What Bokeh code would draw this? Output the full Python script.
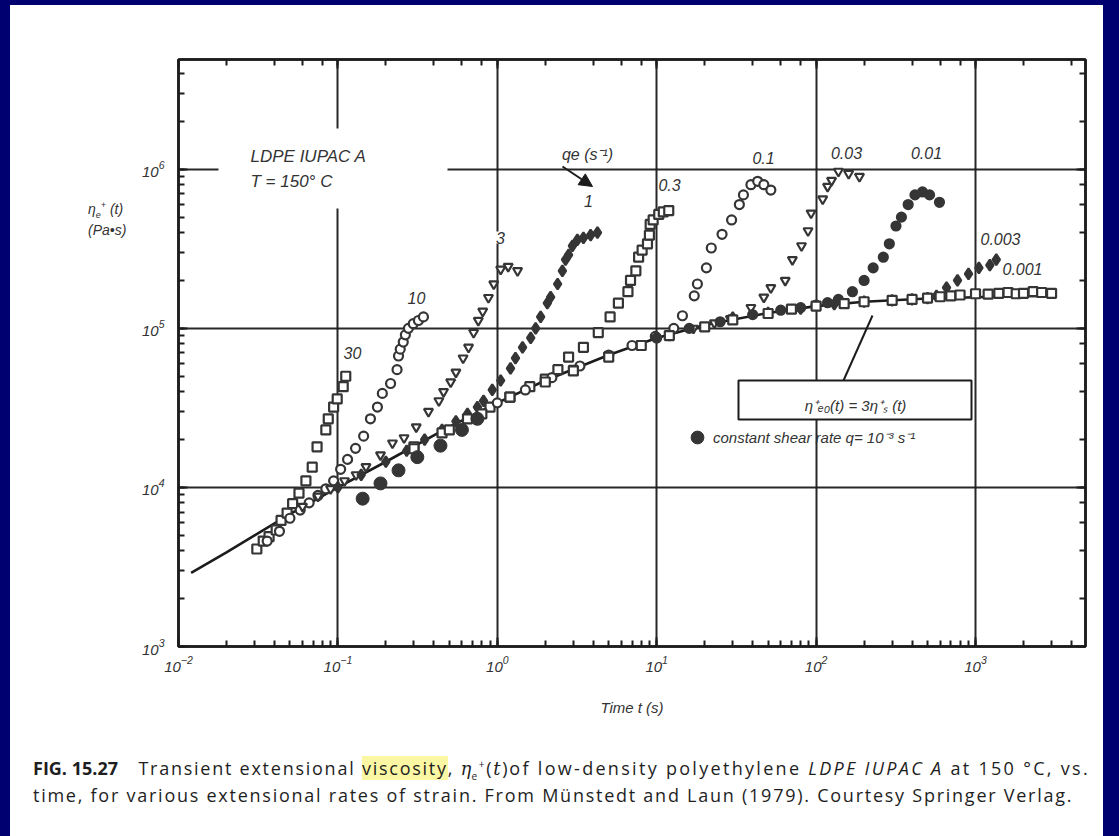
import math
from bokeh.plotting import figure
from bokeh.models import (Label, Arrow, NormalHead, Legend, LegendItem, LogAxis,
                          Div, BoxAnnotation, CustomJSTickFormatter)
from bokeh.layouts import column, row
from bokeh.embed import file_html
from bokeh.resources import INLINE

# ---------------- data ----------------
rate_labels = ["30", "10", "3", "1", "0.3", "0.1", "0.03", "0.01", "0.003", "0.001"]

s30_t = [0.031, 0.034, 0.037, 0.041, 0.044, 0.048, 0.052, 0.057, 0.063, 0.069, 0.074, 0.084, 0.087, 0.094, 0.099, 0.108, 0.112]
s30_e = [4.1e3, 4.6e3, 4.9e3, 5.4e3, 6.2e3, 6.9e3, 7.9e3, 9.2e3, 1.1e4, 1.34e4, 1.8e4, 2.3e4, 2.7e4, 3.2e4, 3.6e4, 4.3e4, 5.0e4]

s10_t = [0.036, 0.043, 0.05, 0.058, 0.066, 0.075, 0.084, 0.094, 0.104, 0.115, 0.129, 0.145, 0.16, 0.177, 0.19, 0.214, 0.235, 0.24, 0.246, 0.257, 0.265, 0.277, 0.297, 0.32, 0.344]
s10_e = [4.6e3, 5.3e3, 6.4e3, 7.2e3, 8.0e3, 8.9e3, 9.8e3, 1.1e4, 1.3e4, 1.5e4, 1.76e4, 2.1e4, 2.7e4, 3.2e4, 3.9e4, 4.5e4, 5.5e4, 6.7e4, 7.4e4, 8.2e4, 9.1e4, 1.0e5, 1.07e5, 1.12e5, 1.18e5]

s3_t = [0.06, 0.075, 0.09, 0.11, 0.13, 0.15, 0.185, 0.22, 0.26, 0.31, 0.37, 0.43, 0.46, 0.51, 0.55, 0.61, 0.66, 0.71, 0.76, 0.81, 0.88, 0.95, 1.05, 1.17, 1.34]
s3_e = [7.6e3, 8.8e3, 9.8e3, 1.1e4, 1.2e4, 1.35e4, 1.6e4, 1.9e4, 2.05e4, 2.4e4, 3.0e4, 3.5e4, 4.0e4, 4.6e4, 5.3e4, 6.5e4, 7.6e4, 9.4e4, 1.12e5, 1.28e5, 1.56e5, 1.9e5, 2.35e5, 2.45e5, 2.3e5]

s1_t = [0.1, 0.14, 0.2, 0.27, 0.35, 0.45, 0.55, 0.65, 0.75, 0.82, 0.93, 1.05, 1.21, 1.30, 1.44, 1.62, 1.74, 1.87, 2.06, 2.16, 2.39, 2.56, 2.68, 2.8, 2.96, 3.18, 3.47, 3.85, 4.25]
s1_e = [1.0e4, 1.2e4, 1.45e4, 1.7e4, 2.0e4, 2.3e4, 2.6e4, 2.9e4, 3.2e4, 3.5e4, 4.1e4, 4.7e4, 5.6e4, 6.5e4, 7.6e4, 8.7e4, 1.0e5, 1.18e5, 1.44e5, 1.57e5, 1.9e5, 2.3e5, 2.7e5, 2.9e5, 3.3e5, 3.6e5, 3.7e5, 3.85e5, 4.0e5]

s03_t = [0.3, 0.45, 0.65, 0.9, 1.2, 1.6, 2.0, 2.4, 2.8, 3.47, 4.3, 5.1, 5.75, 6.6, 6.85, 7.4, 7.7, 8.1, 8.75, 9.0, 9.1, 9.5, 10.3, 11.0, 11.9]
s03_e = [1.8e4, 2.2e4, 2.7e4, 3.2e4, 3.7e4, 4.3e4, 4.8e4, 5.5e4, 6.6e4, 7.6e4, 9.4e4, 1.18e5, 1.44e5, 1.7e5, 2.0e5, 2.3e5, 2.8e5, 3.1e5, 3.4e5, 3.85e5, 4.5e5, 4.8e5, 5.2e5, 5.4e5, 5.5e5]

s01_t = [1.0, 1.5, 2.2, 3.3, 5.0, 7.0, 9.8, 12.8, 14.5, 17.2, 18, 20.5, 22, 25.7, 29.5, 33, 35, 39, 43, 47, 52]
s01_e = [3.4e4, 4.1e4, 4.9e4, 5.8e4, 6.8e4, 7.8e4, 8.9e4, 1.0e5, 1.2e5, 1.6e5, 1.9e5, 2.4e5, 3.2e5, 3.9e5, 4.8e5, 6.0e5, 6.9e5, 8.0e5, 8.4e5, 8.0e5, 7.4e5]

s003_t = [3, 5, 8, 12, 17, 23, 29, 39, 47, 52, 64, 71, 81, 89, 93, 110, 118, 125, 138, 160, 187]
s003_e = [5.6e4, 6.8e4, 8.0e4, 9.0e4, 1.0e5, 1.08e5, 1.15e5, 1.35e5, 1.57e5, 1.8e5, 2.0e5, 2.7e5, 3.3e5, 4.1e5, 5.3e5, 6.5e5, 7.8e5, 8.5e5, 9.7e5, 9.4e5, 9.0e5]

s001_t = [10, 16, 25, 40, 60, 80, 100, 118, 138, 169, 200, 228, 264, 288, 317, 343, 378, 417, 465, 515, 594]
s001_e = [8.7e4, 1.0e5, 1.1e5, 1.22e5, 1.3e5, 1.35e5, 1.4e5, 1.45e5, 1.52e5, 1.7e5, 2.0e5, 2.4e5, 2.8e5, 3.4e5, 4.4e5, 5.0e5, 6.0e5, 6.9e5, 7.2e5, 6.9e5, 6.2e5]

s0003_t = [30, 50, 80, 130, 200, 300, 400, 500, 569, 658, 771, 904, 1050, 1230, 1350]
s0003_e = [1.17e5, 1.25e5, 1.33e5, 1.42e5, 1.47e5, 1.5e5, 1.52e5, 1.55e5, 1.6e5, 1.8e5, 2.0e5, 2.2e5, 2.4e5, 2.5e5, 2.7e5]

s0001_t = [0.3, 0.5, 0.8, 1.2, 2, 3, 5, 8, 12, 20, 30, 50, 70, 100, 150, 200, 300, 400, 500, 600, 700, 800, 1000, 1200, 1400, 1600, 1800, 2000, 2300, 2600, 3000]
s0001_e = [1.75e4, 2.3e4, 2.9e4, 3.7e4, 4.6e4, 5.4e4, 6.6e4, 7.8e4, 9.0e4, 1.02e5, 1.13e5, 1.24e5, 1.32e5, 1.38e5, 1.43e5, 1.47e5, 1.5e5, 1.52e5, 1.55e5, 1.58e5, 1.6e5, 1.62e5, 1.65e5, 1.64e5, 1.66e5, 1.68e5, 1.65e5, 1.66e5, 1.7e5, 1.68e5, 1.66e5]

shear_t = [0.143, 0.185, 0.24, 0.315, 0.44, 0.6, 0.75]
shear_e = [8.5e3, 1.06e4, 1.28e4, 1.55e4, 1.83e4, 2.3e4, 2.7e4]

lve_t = [0.012, 0.02, 0.05, 0.1, 0.2, 0.5, 1, 2, 5, 10, 20, 50, 100, 200, 500, 1000, 2000, 3000]
lve_e = [2.9e3, 3.9e3, 6.8e3, 1.0e4, 1.45e4, 2.4e4, 3.4e4, 4.7e4, 6.8e4, 8.7e4, 1.05e5, 1.25e5, 1.38e5, 1.47e5, 1.54e5, 1.57e5, 1.6e5, 1.6e5]

series_t = [s30_t, s10_t, s3_t, s1_t, s03_t, s01_t, s003_t, s001_t, s0003_t, s0001_t]
series_e = [s30_e, s10_e, s3_e, s1_e, s03_e, s01_e, s003_e, s001_e, s0003_e, s0001_e]

# ---------------- geometry (page origin at x=10, y=5) ----------------
X0, X1 = 1e-2, 10 ** 3.69
Y0, Y1 = 1e3, 10 ** 6.69
TW = 120                                   # width of the y-title column
DPAD = 10                                  # Div's own padding (both sides)
W, H = 1093 - TW, 740
FL, FR, FT, FB = 48, 18, 54, 99            # frame borders (px)
FW, FH = W - FL - FR, H - FT - FB


def tx(px):   # reference pixel x -> data t
    return 10 ** (math.log10(X0) + (px - 178) / FW * (math.log10(X1) - math.log10(X0)))


def ty(py):   # reference pixel y -> data eta
    return 10 ** (math.log10(Y0) + (646 - py) / FH * (math.log10(Y1) - math.log10(Y0)))


INK = "#1c1c1c"
TXT = "#333333"
MK = "#353535"
FONT = "Liberation Sans"

p = figure(width=W, height=H, x_axis_type="log", y_axis_type="log",
           x_range=(X0, X1), y_range=(Y0, Y1), output_backend="svg",
           toolbar_location=None, min_border_left=FL, min_border_right=FR,
           min_border_top=FT, min_border_bottom=FB)
p.background_fill_color = "white"
p.border_fill_color = "white"
p.outline_line_color = INK
p.outline_line_width = 2.5

bottom_ax = p.below[0]
left_ax = p.left[0]

for g in (p.xgrid[0], p.ygrid[0]):
    g.grid_line_color = INK
    g.grid_line_width = 2
    g.grid_line_alpha = 0.95

top_ax = LogAxis(formatter=CustomJSTickFormatter(code="return ''"))
right_ax = LogAxis(formatter=CustomJSTickFormatter(code="return ''"))
p.add_layout(top_ax, "above")
p.add_layout(right_ax, "right")

for ax in (bottom_ax, left_ax, top_ax, right_ax):
    ax.axis_line_color = INK
    ax.axis_line_width = 2.5
    ax.major_tick_in = 9
    ax.major_tick_out = 0
    ax.minor_tick_in = 6
    ax.minor_tick_out = 0
    ax.major_tick_line_color = INK
    ax.minor_tick_line_color = INK
    ax.major_tick_line_width = 2
    ax.minor_tick_line_width = 2
    ax.major_label_text_font = FONT
    ax.major_label_text_font_style = "italic"
    ax.major_label_text_font_size = "15px"
    ax.major_label_text_color = TXT
for ax in (top_ax, right_ax):
    ax.major_label_text_font_size = "6px"
    ax.major_label_standoff = 0

bottom_ax.major_label_standoff = 9
left_ax.major_label_standoff = 14
bottom_ax.axis_label = "Time t (s)"
bottom_ax.axis_label_text_font = FONT
bottom_ax.axis_label_text_font_style = "italic"
bottom_ax.axis_label_text_font_size = "15px"
bottom_ax.axis_label_text_color = TXT
bottom_ax.axis_label_standoff = 24

# white mask behind the material label (grid lines are broken there)
p.quad(left=tx(218), right=tx(447), bottom=ty(208), top=ty(128),
       fill_color="white", line_color=None)

# linear viscoelastic envelope
p.line(lve_t, lve_e, line_color=INK, line_width=2.6)

styles = [("square", False), ("circle", False), ("inverted_triangle", False),
          ("diamond", True), ("square", False), ("circle", False),
          ("inverted_triangle", False), ("circle", True), ("diamond", True),
          ("square", False)]
for (t, e), (mk, filled) in zip(zip(series_t, series_e), styles):
    p.scatter(t, e, marker=mk, size=9 if mk != "diamond" else 11,
              line_color=MK, line_width=2.2,
              fill_color=MK if filled else "white")

shear_r = p.scatter(shear_t, shear_e, marker="circle", size=13,
                    line_color=MK, fill_color=MK)


def lab(px, py, text, size="16px", align="center", bg=True):
    p.add_layout(Label(x=tx(px), y=ty(py), text=text, text_font=FONT,
                       text_font_style="italic", text_font_size=size,
                       text_color=TXT, text_align=align,
                       text_baseline="middle",
                       background_fill_color="white" if bg else None))


# rate labels
rate_pos = [(352, 352), (416, 297), (500, 237), (588, 200), (669, 184),
            (763, 157), (846, 152), (926, 152), (1000, 238), (1022, 268)]
for (px, py), t in zip(rate_pos, rate_labels):
    lab(px, py, t)

lab(587, 154, "qe (s\u207b\u00b9)")
p.add_layout(Arrow(end=NormalHead(size=13, fill_color=INK, line_color=INK),
                   x_start=tx(562), y_start=ty(166), x_end=tx(592),
                   y_end=ty(186), line_color=INK, line_width=2))

lab(250, 156, "LDPE IUPAC A", size="17px", align="left", bg=False)
lab(250, 181, "T = 150\u00b0 C", size="17px", align="left", bg=False)

# relation box with leader line
p.segment(x0=[tx(843)], y0=[ty(380)], x1=[tx(872)], y1=[ty(315)],
          line_color=INK, line_width=2)
p.add_layout(BoxAnnotation(left=tx(738), right=tx(971), top=ty(380),
                           bottom=ty(419), fill_color="white", fill_alpha=1,
                           line_color=INK, line_width=2, line_alpha=1))
lab(855, 405, "\u03b7\u207a\u2091\u2080(t) = 3\u03b7\u207a\u209b (t)", size="15px", bg=False)

GB = 32   # legend glyph box
leg = Legend(items=[LegendItem(label="constant shear rate q= 10\u207b\u00b3 s\u207b\u00b9",
                               renderers=[shear_r])],
             location=(697 - 178 - GB // 2, 646 - 437 - GB // 2), padding=0, margin=0,
             glyph_width=GB, glyph_height=GB, label_standoff=0,
             border_line_color=None, background_fill_alpha=0,
             label_text_font=FONT, label_text_font_style="italic",
             label_text_font_size="15px", label_text_color=TXT)
p.add_layout(leg, "center")

# y-axis title (horizontal, upper left)
ytitle = Div(
    text=('<div style="font-family:\'Liberation Sans\',sans-serif;font-style:italic;'
          'font-size:14px;color:#333;line-height:21px;white-space:nowrap;'
          'padding:189px 0 0 73px;">'
          '\u03b7<sub style="font-size:9px;line-height:0">e</sub>'
          '<sup style="font-size:9px;line-height:0">+</sup> (t)<br>(Pa\u2022s)</div>'),
    width=TW - DPAD, height=H - DPAD, styles={"background-color": "white"})

cap_html = (
    '<div style="font-family:\'Open Sans\',sans-serif;font-size:18px;color:#1e1e1e;'
    'line-height:26px;white-space:nowrap;padding:5px 0 0 18px;letter-spacing:1.75px;">'
    '<b style="letter-spacing:0px;margin-right:14px">FIG. 15.27</b> Transient extensional '
    '<span style="background:#fbf7a2">viscosity</span>, '
    '<span style="font-family:\'DejaVu Serif\';font-style:italic;letter-spacing:0">\u03b7</span>'
    '<sub style="font-size:10px;line-height:0">e</sub><sup style="font-size:10px;line-height:0">+</sup>'
    '(<i style="font-family:\'DejaVu Serif\'">t</i>)'
    '<span style="letter-spacing:2.3px">of low-density polyethylene '
    '<i>LDPE IUPAC A</i> at 150 \u00b0C, vs.</span><br>'
    'time, for various extensional rates of strain. From M\u00fcnstedt and Laun (1979). '
    'Courtesy Springer Verlag.</div>')
cap = Div(text=cap_html, width=TW + W - DPAD, height=836 - 5 - H - DPAD,
          styles={"background-color": "white"})

root = column(row(ytitle, p, spacing=0), cap, spacing=0,
              styles={"background-color": "white"})

html = file_html(root, INLINE, title="Transient extensional viscosity")
html = html.replace(
    "<head>",
    "<head><style>html{overflow:hidden;background-color:#000070;}"
    "body{background-color:#000070;margin:5px 0 0 10px !important;overflow:hidden;}</style>", 1)
open("out.html", "w").write(html)
